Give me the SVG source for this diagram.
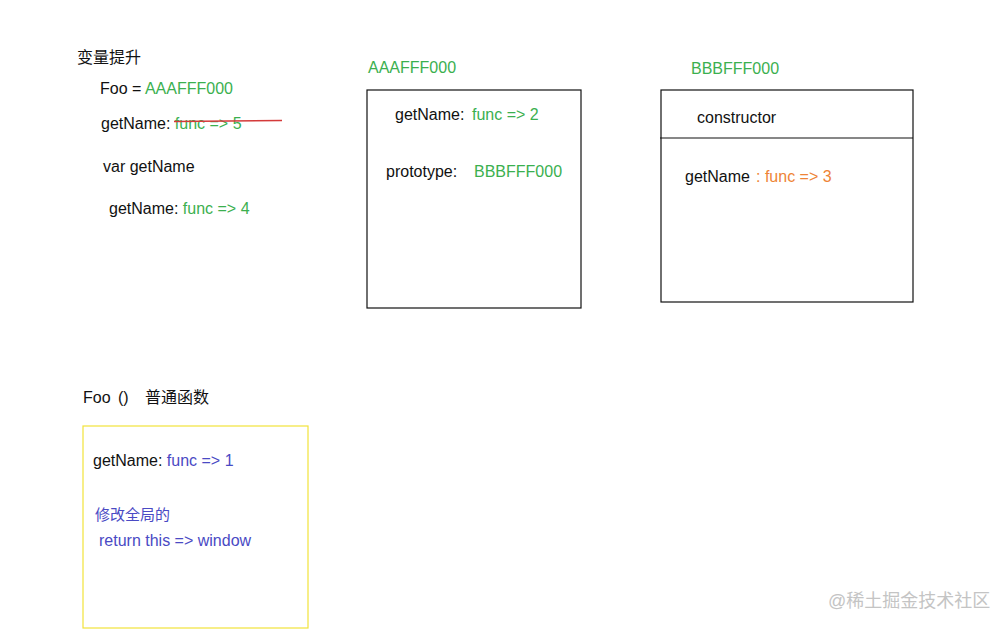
<svg xmlns="http://www.w3.org/2000/svg" width="1008" height="630" viewBox="0 0 1008 630">
<style>
text{font-family:"Liberation Sans","Noto Sans CJK SC",sans-serif;font-size:16px;fill:#111}
.g{fill:#3bb04f}
.b{fill:#4a4ac4}
.o{fill:#ee8436}
.box{fill:none;stroke:#111;stroke-width:1.2}
.wm{fill:#c4c4c4;font-size:18px}
</style>
<rect width="1008" height="630" fill="#fff"/>
<g id="hoisting">
<text x="77" y="63">变量提升</text>
<text x="100" y="94">Foo = <tspan class="g">AAAFFF000</tspan></text>
<text x="101" y="129">getName: <tspan class="g">func =&gt; 5</tspan></text>
<line x1="174" y1="121.5" x2="282" y2="120.5" stroke="#d43a3a" stroke-width="1.3"/>
<text x="103" y="172">var getName</text>
<text x="109" y="214">getName: <tspan class="g">func =&gt; 4</tspan></text>
</g>
<g id="foo-object">
<text x="368" y="73" class="g">AAAFFF000</text>
<rect class="box" x="367" y="90" width="214" height="218"/>
<text x="395" y="120">getName: <tspan class="g" x="472">func =&gt; 2</tspan></text>
<text x="386" y="177">prototype: <tspan class="g" x="474">BBBFFF000</tspan></text>
</g>
<g id="prototype-object">
<text x="691" y="74" class="g">BBBFFF000</text>
<rect class="box" x="661" y="90" width="252" height="212"/>
<line x1="660" y1="138" x2="913" y2="138" stroke="#111" stroke-width="1.2"/>
<text x="697" y="123">constructor</text>
<text x="685" y="182">getName <tspan class="o" x="756">: func =&gt; 3</tspan></text>
</g>
<g id="foo-function">
<text x="83" y="403">Foo <tspan x="118">()</tspan> <tspan x="145">普通函数</tspan></text>
<rect x="83" y="426" width="225" height="202" fill="none" stroke="#f2e33a" stroke-width="1.2"/>
<text x="93" y="466">getName: <tspan class="b">func =&gt; 1</tspan></text>
<text x="95" y="520" class="b" style="font-size:15px">修改全局的</text>
<text x="99" y="546" class="b">return this =&gt; window</text>
</g>
<g id="connectors"></g>
<text x="828" y="607" class="wm">@稀土掘金技术社区</text>
</svg>
